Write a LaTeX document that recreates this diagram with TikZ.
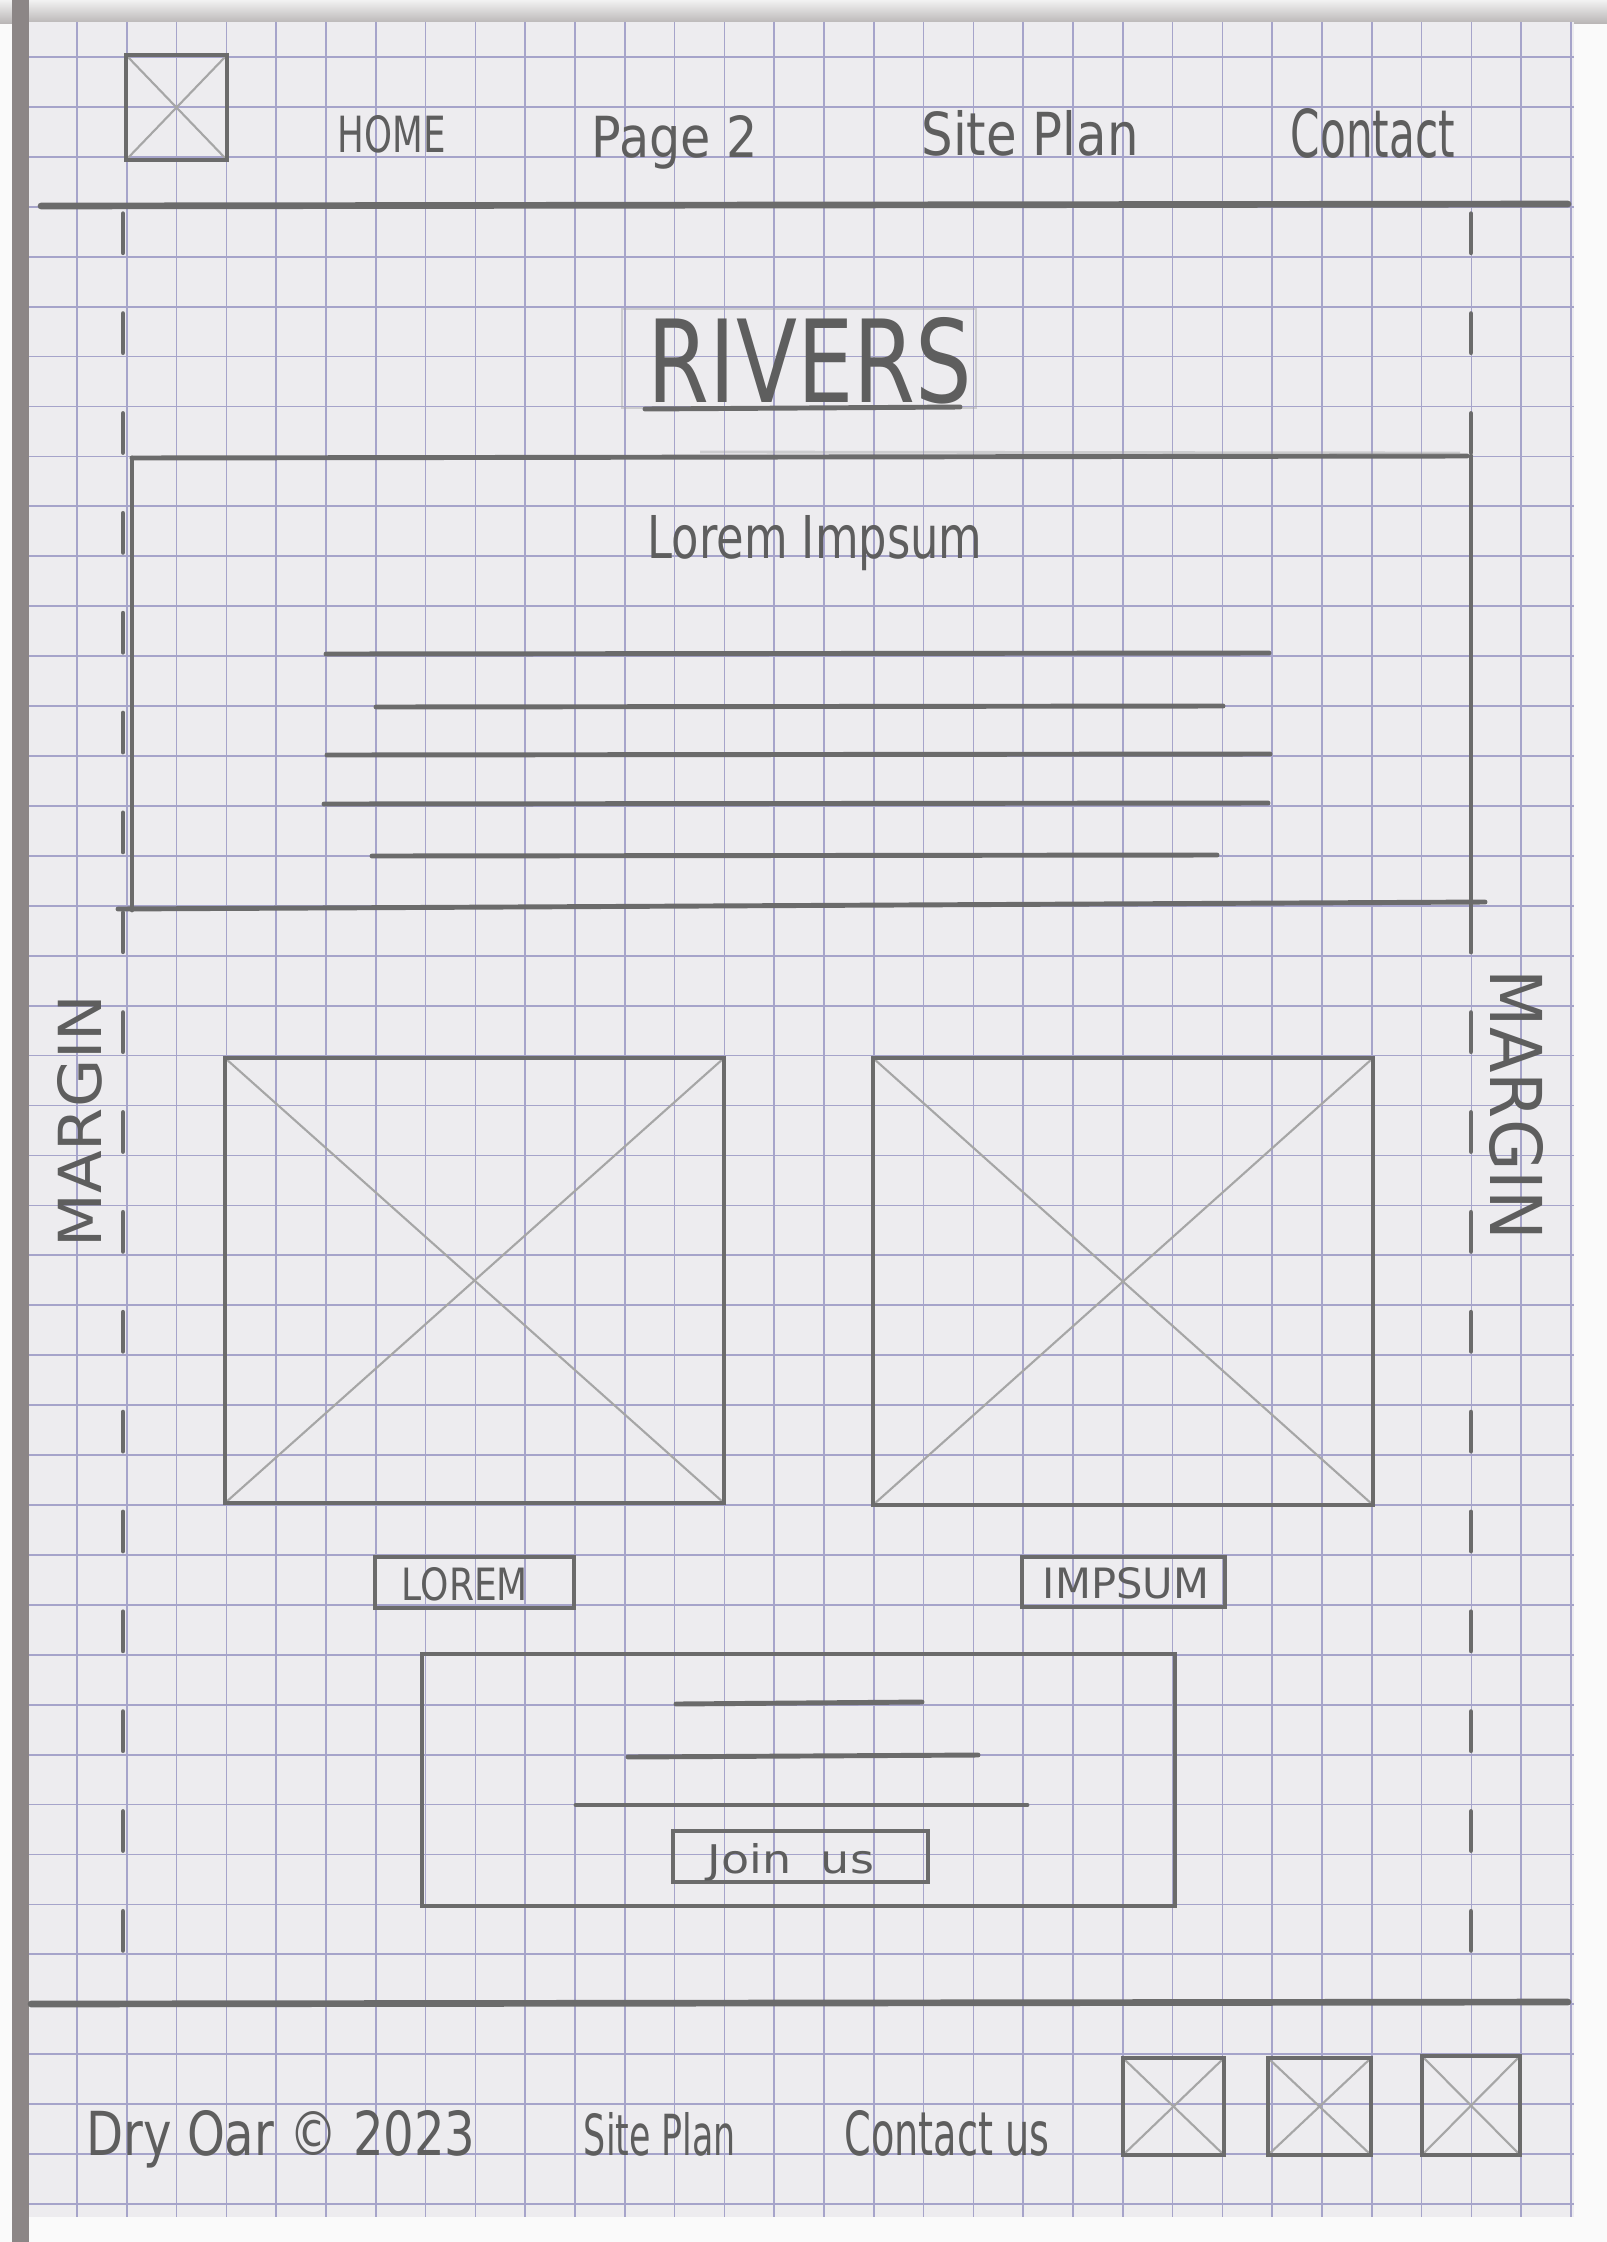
\documentclass[tikz,border=0pt]{standalone}
\usepackage{fontspec}
\newfontfamily\hand{DejaVu Sans}
\definecolor{paperc}{HTML}{EDECEF}
\definecolor{gridc}{HTML}{A6A4CA}
\definecolor{pencil}{HTML}{6B6B6B}
\definecolor{pencilink}{HTML}{5E5E5E}
\definecolor{faintpencil}{HTML}{A6A6A6}
\definecolor{edgeshadow}{HTML}{8C8686}
\tikzset{
  gridline/.style={draw=gridc, line width=0.5pt},
  pen/.style={draw=pencil, line width=1.4pt, line cap=round},
  heavypen/.style={draw=pencil, line width=1.9pt, line cap=round},
  diag/.style={draw=faintpencil, line width=0.6pt},
  ghost/.style={draw=faintpencil, line width=0.8pt, opacity=0.45},
  hw/.style={text=pencilink, inner sep=0pt, font=\hand},
}
\newcommand\wfXbox[4]{%
  \draw[diag] (#1,#2) -- (#3,#4) (#1,#4) -- (#3,#2);
  \draw[pen] (#1,#2) rectangle (#3,#4);}
\begin{document}
\begin{tikzpicture}[x=0.01cm,y=-0.01cm]
\useasboundingbox (0,0) rectangle (1607,2242);
% surroundings of the sheet
\fill[white!96!gray] (0,0) rectangle (1607,2242);
\shade[top color=white!90!gray, bottom color=edgeshadow!60!white] (0,0) rectangle (1607,23);
\fill[edgeshadow] (12,0) rectangle (29,2242);
\fill[paperc] (29,22) rectangle (1574,2217);
% graph paper grid
\foreach \k in {0,...,30} {\draw[gridline] ({77+49.8*\k},22) -- ({77+49.8*\k},2217);}
\foreach \k in {0,...,43} {\draw[gridline] (29,{57+49.93*\k}) -- (1574,{57+49.93*\k});}
% ---------------- header ----------------
\wfXbox{126}{55}{227}{160}
\node[hw, anchor=base] (navhome) at (392,152) {\resizebox{1.08cm}{0.37cm}{HOME}};
\node[hw, anchor=base] (navpage) at (675,157) {\resizebox{1.66cm}{0.42cm}{Page 2}};
\node[hw, anchor=base] (navplan) at (1030,155) {\resizebox{2.17cm}{0.45cm}{Site Plan}};
\node[hw, anchor=base] (navcontact) at (1373,157) {\resizebox{1.64cm}{0.49cm}{Contact}};
\draw[heavypen] (41,206) -- (1568,204);
% ---------------- margins ----------------
\foreach \k in {3,5,...,37} {\draw[pen] (123,{57+49.93*\k+7}) -- (123,{57+49.93*(\k+1)-4});}
\foreach \k in {3,5,7,19,21,...,37} {\draw[pen] (1471,{57+49.93*\k+7}) -- (1471,{57+49.93*(\k+1)-4});}
\node[hw, rotate=90] (marginleft) at (80,1121) {\resizebox{2.53cm}{0.44cm}{MARGIN}};
\node[hw, rotate=-90] (marginright) at (1516,1105) {\resizebox{2.70cm}{0.53cm}{MARGIN}};
% ---------------- title ----------------
\draw[ghost] (622,309) rectangle (976,408);
\node[hw, anchor=base] (title) at (810,402) {\resizebox{3.24cm}{0.85cm}{RIVERS}};
\draw[pen] (645,409) -- (960,407);
% ---------------- intro box ----------------
\draw[pen] (132,458) -- (1467,456);
\draw[ghost] (700,452) -- (1460,453);
\draw[pen] (132,458) -- (132,910);
\draw[pen] (1471,456) -- (1471,952);
\draw[pen] (118,909) -- (1485,902);
\node[hw, anchor=base] (intro) at (815,558) {\resizebox{3.35cm}{0.43cm}{Lorem Impsum}};
\draw[pen] (326,654) -- (1269,653);
\draw[pen] (376,707) -- (1223,706);
\draw[pen] (327,755) -- (1270,754);
\draw[pen] (324,804) -- (1268,803);
\draw[pen] (372,856) -- (1217,855);
% ---------------- images ----------------
\wfXbox{225}{1058}{724}{1503}
\wfXbox{873}{1058}{1373}{1505}
\draw[pen] (375,1557) rectangle (574,1608);
\node[hw, anchor=base] (btnlorem) at (465,1600) {\resizebox{1.26cm}{0.33cm}{LOREM}};
\draw[pen] (1022,1557) rectangle (1225,1607);
\node[hw, anchor=base] (btnimpsum) at (1126,1598) {\resizebox{1.66cm}{0.31cm}{IMPSUM}};
% ---------------- newsletter box ----------------
\draw[pen] (422,1654) rectangle (1175,1906);
\draw[pen] (676,1704) -- (922,1702);
\draw[pen] (628,1757) -- (978,1755);
\draw[pen] (576,1805) -- (1027,1805);
\draw[pen] (673,1831) rectangle (928,1882);
\node[hw, anchor=base] (btnjoin) at (791,1873) {\resizebox{1.66cm}{0.30cm}{Join\ \ us}};
% ---------------- footer ----------------
\draw[heavypen] (31,2004) -- (1568,2002);
\node[hw, anchor=base] (copyright) at (281,2155) {\resizebox{3.89cm}{0.45cm}{Dry Oar © 2023}};
\node[hw, anchor=base] (footplan) at (660,2155) {\resizebox{1.52cm}{0.43cm}{Site Plan}};
\node[hw, anchor=base] (footcontact) at (947,2155) {\resizebox{2.05cm}{0.45cm}{Contact us}};
\wfXbox{1123}{2058}{1224}{2155}
\wfXbox{1268}{2058}{1371}{2155}
\wfXbox{1422}{2056}{1520}{2155}
\end{tikzpicture}
\end{document}
